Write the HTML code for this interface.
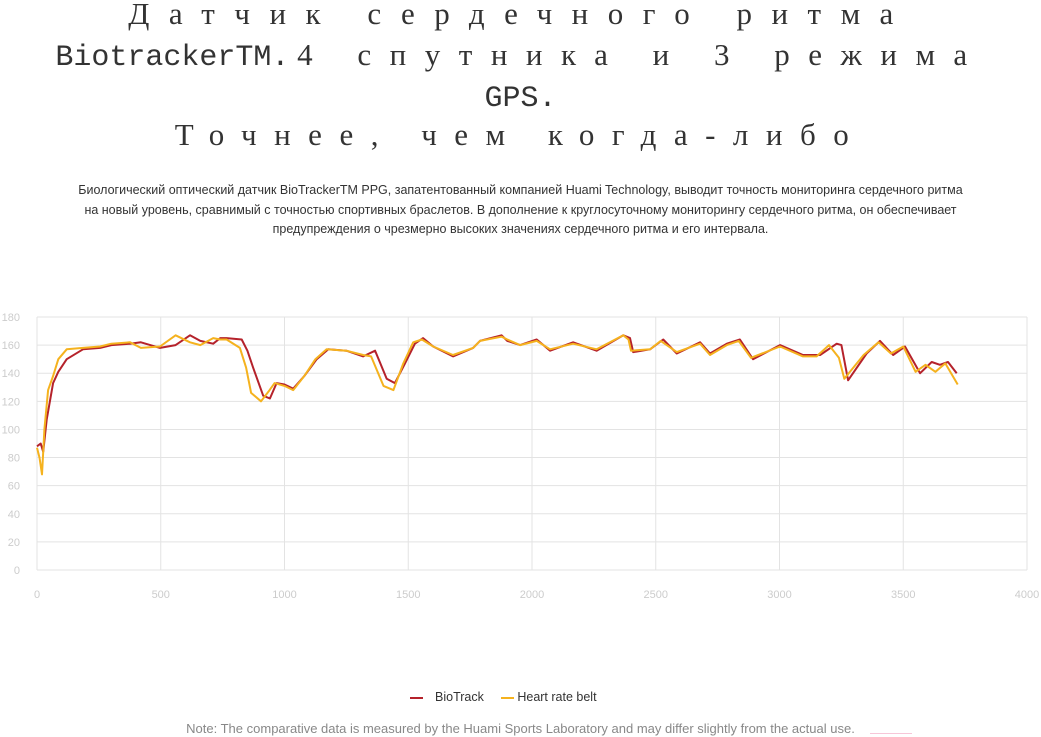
<!DOCTYPE html>
<html><head><meta charset="utf-8">
<style>
body{margin:0;width:1041px;height:737px;background:#fff;position:relative;overflow:hidden;font-family:"Liberation Sans",sans-serif}
.t{position:absolute;left:0;width:1041px;text-align:center;font-family:"Liberation Serif","Noto Serif CJK SC",serif;font-size:31px;color:#333;white-space:nowrap;line-height:40px}
.m{font-family:"Liberation Mono",monospace;font-size:30px;letter-spacing:0}
.p{position:absolute;left:72px;width:897px;text-align:center;font-size:12.5px;color:#333;line-height:19.5px;top:181px}
</style></head><body>
<div class="t" style="top:-6px;letter-spacing:19.5px">Датчик сердечного ритма</div>
<div class="t" style="top:35px"><span class="m">BiotrackerTM.</span> <span style="letter-spacing:18.5px">4 спутника и 3 режима</span></div>
<div class="t" style="top:76px"><span class="m">GPS.</span></div>
<div class="t" style="top:115px;letter-spacing:17.5px">Точнее, чем когда-либо</div>
<div class="p">Биологический оптический датчик BioTrackerTM PPG, запатентованный компанией Huami Technology, выводит точность мониторинга сердечного ритма на новый уровень, сравнимый с точностью спортивных браслетов. В дополнение к круглосуточному мониторингу сердечного ритма, он обеспечивает предупреждения о чрезмерно высоких значениях сердечного ритма и его интервала.</div>
<svg id="chart" width="1041" height="737" style="position:absolute;left:0;top:0"></svg>
<script>
const xTicks=[0,500,1000,1500,2000,2500,3000,3500,4000];
const yTicks=[0,20,40,60,80,100,120,140,160,180];
const bioT=[0,15,25,39,65,86,120,186,255,300,376,420,497,560,618,660,712,740,766,827,850,873,914,941,968,1000,1035,1080,1130,1177,1250,1318,1366,1413,1446,1487,1527,1560,1601,1681,1762,1790,1877,1900,1952,2019,2073,2166,2261,2369,2396,2409,2477,2530,2585,2679,2719,2787,2840,2893,3002,3095,3164,3231,3250,3277,3352,3406,3459,3507,3568,3615,3648,3681,3716];
const bioV=[88,90,84,107,133,141,150,157,158,160,161,162,158,160,167,163,161,165,165,164,156,144,124,122,133,132,129,138,150,157,156,152,156,136,133,147,161,165,159,152,158,163,167,163,160,164,156,162,156,167,165,155,157,164,154,162,154,161,164,150,160,153,153,161,160,135,154,163,153,159,140,148,146,148,140];
const beltT=[0,10,20,30,45,65,86,120,186,255,300,376,420,497,560,618,660,712,740,766,820,845,865,905,940,960,1000,1035,1080,1125,1170,1250,1318,1350,1400,1440,1480,1520,1555,1601,1681,1762,1790,1877,1900,1952,2019,2073,2166,2261,2369,2390,2400,2477,2520,2585,2679,2719,2787,2835,2885,3002,3095,3150,3200,3240,3262,3340,3400,3450,3500,3550,3590,3630,3670,3720];
const beltV=[87,80,68,100,128,138,150,157,158,159,161,162,158,159,167,162,160,165,164,164,158,144,126,120,128,133,131,128,138,150,157,156,153,152,131,128,147,162,164,159,153,158,163,166,164,160,163,157,161,157,167,164,156,157,163,155,161,153,160,163,151,159,152,152,160,151,136,153,162,154,159,141,146,141,147,132];
const svg=document.getElementById('chart');
const NS='http://www.w3.org/2000/svg';
const X0=37,X1=1027,Y0=570,Y1=317;
function sx(v){return X0+(v-0)/(4000-0)*(X1-X0);}
function sy(v){return Y0-(v-0)/(180-0)*(Y0-Y1);}
function mk(tag,attrs){const e=document.createElementNS(NS,tag);for(const k in attrs)e.setAttribute(k,attrs[k]);svg.appendChild(e);return e;}
yTicks.forEach(t=>{
  const l=mk('line',{x1:X0,x2:X1,y1:sy(t),y2:sy(t),stroke:'#e3e3e3','stroke-width':1});
  
  
  const tx=mk('text',{x:X0-17,y:sy(t)+4,'text-anchor':'end','font-size':11,fill:'#ccc','font-family':'Liberation Sans, sans-serif'});
  tx.textContent=t;
  
  
});
xTicks.forEach(t=>{
  const l=mk('line',{x1:sx(t),x2:sx(t),y1:Y1,y2:Y0,stroke:'#e3e3e3','stroke-width':1});
  
  
  const tx=mk('text',{x:sx(t),y:Y0+28,'text-anchor':'middle','font-size':11,fill:'#ccc','font-family':'Liberation Sans, sans-serif'});
  tx.textContent=t;
  
  
});
function path(T,V){return T.map((t,i)=>(i?'L':'M')+sx(t).toFixed(1)+','+sy(V[i]).toFixed(1)).join('');}
const p1=mk('path',{d:path(bioT,bioV),fill:'none',stroke:'#b5222b','stroke-width':2,'stroke-linejoin':'round'});


const p2=mk('path',{d:path(beltT,beltV),fill:'none',stroke:'#f5b21e','stroke-width':2,'stroke-linejoin':'round'});


</script>
<div style="position:absolute;top:690px;left:410px;font-size:12.5px;color:#333;white-space:nowrap">
<span><span style="display:inline-block;width:13px;height:2px;background:#b5222b;vertical-align:middle;margin-right:12px"></span>BioTrack</span>
<span style="margin-left:14px"><span style="display:inline-block;width:13px;height:2px;background:#f5b21e;vertical-align:middle;margin-right:3px"></span>Heart rate belt</span>
</div>
<div style="position:absolute;top:721px;left:0;width:1041px;text-align:center;font-size:13px;color:#888">Note: The comparative data is measured by the Huami Sports Laboratory and may differ slightly from the actual use.</div>
<div style="position:absolute;left:870px;top:733px;width:42px;height:1px;background:#f7c6d8"></div>
</body></html>
